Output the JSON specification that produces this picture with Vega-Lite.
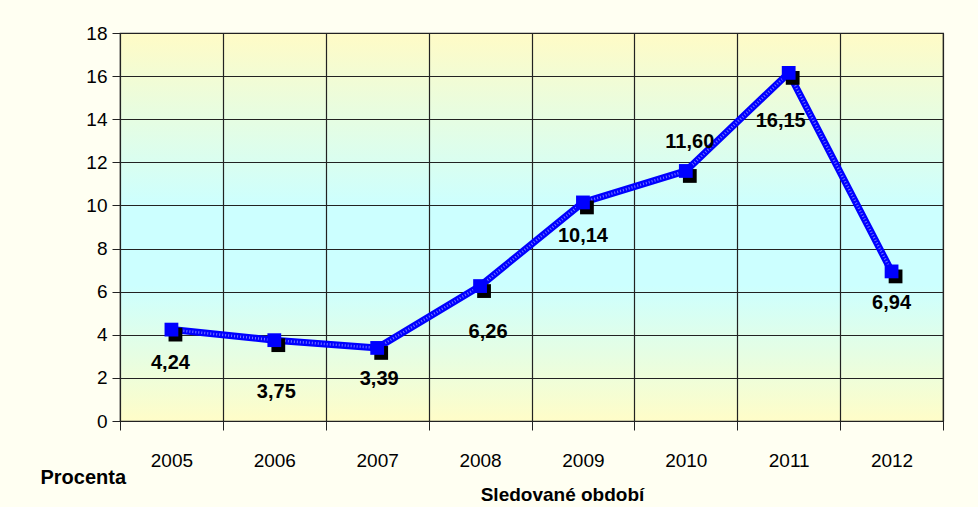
{
  "$schema": "https://vega.github.io/schema/vega-lite/v6.json",
  "width": 823,
  "height": 388,
  "autosize": "none",
  "padding": {"left": 120, "top": 33, "right": 35, "bottom": 86},
  "background": "#fffff2",
  "config": {
    "view": {
      "stroke": "#222222",
      "strokeWidth": 1.2,
      "fill": {
        "gradient": "linear",
        "x1": 0, "y1": 0, "x2": 0, "y2": 1,
        "stops": [
          {"offset": 0, "color": "#fffbc6"},
          {"offset": 0.45, "color": "#ccffff"},
          {"offset": 0.65, "color": "#ccffff"},
          {"offset": 1, "color": "#fffdc8"}
        ]
      }
    },
    "axis": {
      "labelFont": "Liberation Sans",
      "labelFontSize": 19,
      "labelColor": "#000000",
      "titleFont": "Liberation Sans",
      "titleFontWeight": "bold",
      "titleFontSize": 20,
      "titleColor": "#000000",
      "domainColor": "#222222",
      "tickColor": "#222222",
      "gridColor": "#222222",
      "gridOpacity": 1,
      "gridWidth": 1.2
    },
    "text": {"font": "Liberation Sans", "fontWeight": "bold", "fontSize": 20}
  },
  "data": {
    "values": [
      {"rok": "2005", "procenta": 4.24, "label": "4,24"},
      {"rok": "2006", "procenta": 3.75, "label": "3,75"},
      {"rok": "2007", "procenta": 3.39, "label": "3,39"},
      {"rok": "2008", "procenta": 6.26, "label": "6,26"},
      {"rok": "2009", "procenta": 10.14, "label": "10,14"},
      {"rok": "2010", "procenta": 11.6, "label": "11,60"},
      {"rok": "2011", "procenta": 16.15, "label": "16,15"},
      {"rok": "2012", "procenta": 6.94, "label": "6,94"}
    ]
  },
  "encoding": {
    "x": {
      "field": "rok",
      "type": "ordinal",
      "scale": {"paddingInner": 0, "paddingOuter": 0},
      "axis": {
        "title": "Sledované období",
        "titleX": 442,
        "titleY": 64,
        "titleBaseline": "top",
        "titleFontSize": 19,
        "labelAngle": 0,
        "tickBand": "extent",
        "grid": true,
        "tickSize": 9,
        "labelPadding": 21,
        "domain": true
      }
    },
    "y": {
      "field": "procenta",
      "type": "quantitative",
      "scale": {"domain": [0, 18], "nice": false},
      "axis": {
        "title": "Procenta",
        "titleAngle": 0,
        "titleAlign": "left",
        "titleBaseline": "middle",
        "titleX": -80,
        "titleY": 444,
        "values": [0, 2, 4, 6, 8, 10, 12, 14, 16, 18],
        "grid": true,
        "tickSize": 8,
        "labelPadding": 5
      }
    }
  },
  "layer": [
    {"mark": {"type": "line", "color": "#0000ff", "strokeWidth": 7}},
    {"mark": {"type": "line", "color": "#ffffff", "strokeWidth": 2.5, "strokeDash": [1, 2], "opacity": 0.45}},
    {"mark": {"type": "point", "shape": "square", "filled": true, "color": "#000000", "size": 190, "opacity": 1, "xOffset": 4, "yOffset": 5}},
    {"mark": {"type": "point", "shape": "square", "filled": true, "color": "#0000ff", "size": 190, "opacity": 1}},
    {
      "transform": [{"filter": "datum.rok == '2005'"}],
      "mark": {"type": "text", "dx": -1, "dy": 33},
      "encoding": {"text": {"field": "label"}}
    },
    {
      "transform": [{"filter": "datum.rok == '2006'"}],
      "mark": {"type": "text", "dx": 2, "dy": 52},
      "encoding": {"text": {"field": "label"}}
    },
    {
      "transform": [{"filter": "datum.rok == '2007'"}],
      "mark": {"type": "text", "dx": 2, "dy": 31},
      "encoding": {"text": {"field": "label"}}
    },
    {
      "transform": [{"filter": "datum.rok == '2008'"}],
      "mark": {"type": "text", "dx": 8, "dy": 46},
      "encoding": {"text": {"field": "label"}}
    },
    {
      "transform": [{"filter": "datum.rok == '2009'"}],
      "mark": {"type": "text", "dx": 0, "dy": 34},
      "encoding": {"text": {"field": "label"}}
    },
    {
      "transform": [{"filter": "datum.rok == '2010'"}],
      "mark": {"type": "text", "dx": 4, "dy": -29},
      "encoding": {"text": {"field": "label"}}
    },
    {
      "transform": [{"filter": "datum.rok == '2011'"}],
      "mark": {"type": "text", "dx": -8, "dy": 48},
      "encoding": {"text": {"field": "label"}}
    },
    {
      "transform": [{"filter": "datum.rok == '2012'"}],
      "mark": {"type": "text", "dx": 0, "dy": 32},
      "encoding": {"text": {"field": "label"}}
    }
  ]
}
